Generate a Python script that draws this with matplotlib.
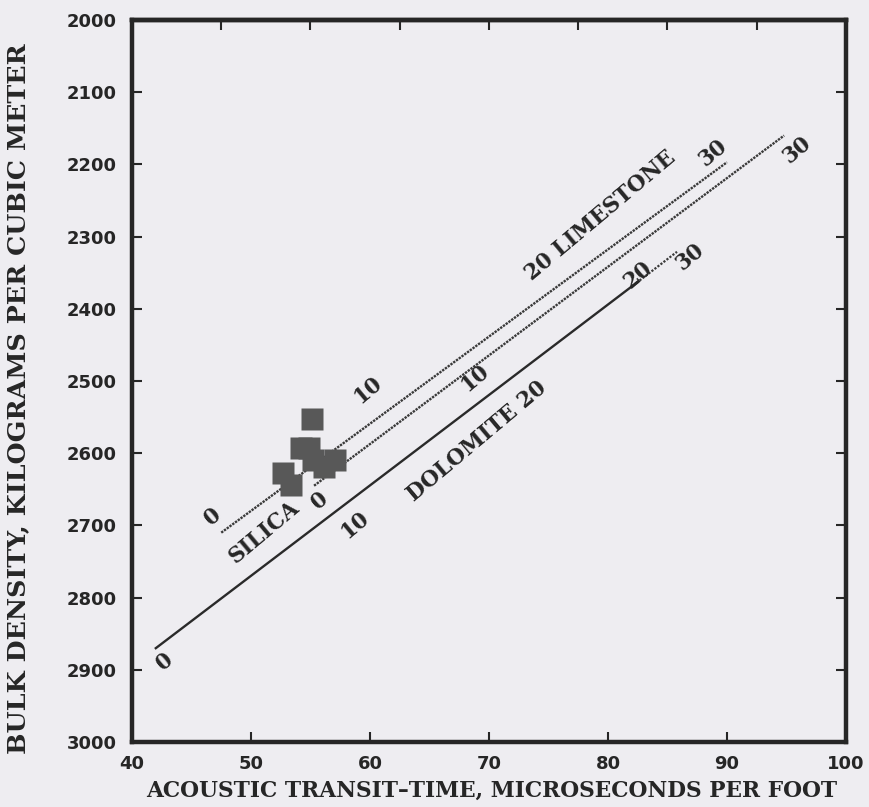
import matplotlib
matplotlib.use("Agg")
import matplotlib.pyplot as plt

# lithology lines: acoustic transit time (us/ft) vs bulk density (kg/m3)
limestone_dt = [47.5, 90.0]
limestone_rho = [2710, 2197]
silica_dt = [55.3, 94.8]
silica_rho = [2645, 2160]
dolomite_dt = [42.0, 82.4]
dolomite_rho = [2870, 2364]
dolomite_tail_dt = [82.4, 85.8]
dolomite_tail_rho = [2364, 2321]

# measured samples
sample_dt = [55.1, 54.2, 54.9, 57.1, 56.1, 55.2, 52.7, 53.4]
sample_rho = [2553, 2593, 2593, 2609, 2619, 2609, 2627, 2644]

# porosity / lithology labels
label_text = ["0", "SILICA", "0", "10", "10", "10", "DOLOMITE 20",
              "20 LIMESTONE", "30", "30", "20", "30", "0"]
label_dt = [46.8, 51.1, 55.8, 59.8, 68.8, 58.7, 69.0,
            79.4, 88.8, 95.9, 82.5, 86.9, 42.8]
label_rho = [2688, 2710, 2665, 2512, 2496, 2699, 2584,
             2271, 2184, 2180, 2353, 2328, 2889]

x_ticks = [40, 50, 60, 70, 80, 90, 100]
top_ticks = [47.5, 55, 62.5, 70, 77.5, 85, 92.5]
y_ticks = list(range(2000, 3001, 100))

bg = "#eeedf1"
ink = "#262626"
serif = "DejaVu Serif"
dotted = (0, (1.0, 0.45))

fig = plt.figure(figsize=(8.69, 8.07), dpi=100)
fig.patch.set_facecolor(bg)
ax = fig.add_axes([0.1519, 0.0805, 0.8216, 0.8947])
ax.set_facecolor(bg)

ax.plot(limestone_dt, limestone_rho, color="#3a3a3a", lw=1.7, ls=dotted)
ax.plot(silica_dt, silica_rho, color="#3a3a3a", lw=1.7, ls=dotted)
ax.plot(dolomite_dt, dolomite_rho, color="#2a2a2a", lw=1.7)
ax.plot(dolomite_tail_dt, dolomite_tail_rho, color="#3a3a3a", lw=1.6, ls=(0, (1.0, 0.7)))

ax.plot(sample_dt, sample_rho, ls="none", marker="s", ms=16.3,
        mfc="#585858", mec="none")

for txt, x, y in zip(label_text, label_dt, label_rho):
    ax.text(x, y, txt, rotation=40, ha="center", va="center",
            fontsize=15.5, fontweight="bold", family=serif, color=ink,
            rotation_mode="anchor")

ax.set_xlim(40, 100)
ax.set_ylim(3000, 2000)
ax.set_xticks(x_ticks)
ax.set_yticks(y_ticks)

for sp in ax.spines.values():
    sp.set_linewidth(3.2)
    sp.set_color(ink)

ax.tick_params(axis="both", direction="in", length=7.5, width=1.5,
               color=ink, labelsize=13, pad=9)
ax.tick_params(axis="y", right=True, pad=11)
for lab in ax.get_xticklabels() + ax.get_yticklabels():
    lab.set_fontweight("bold")
    lab.set_family("DejaVu Sans")
    lab.set_color(ink)

top = ax.secondary_xaxis("top")
top.set_xticks(top_ticks)
top.tick_params(direction="in", length=7.5, width=1.5, color=ink,
                labeltop=False)
top.spines["top"].set_linewidth(3.2)
top.spines["top"].set_color(ink)

ax.set_xlabel("ACOUSTIC TRANSIT\u2013TIME, MICROSECONDS PER FOOT",
              fontsize=15.7, fontweight="bold", family=serif, color=ink)
ax.set_ylabel("BULK DENSITY, KILOGRAMS PER CUBIC METER",
              fontsize=18.3, fontweight="bold", family=serif, color=ink)
ax.xaxis.set_label_coords(0.504, -0.052)
ax.yaxis.set_label_coords(-0.143, 0.476)

fig.savefig("out.png", dpi=100, facecolor=bg)
